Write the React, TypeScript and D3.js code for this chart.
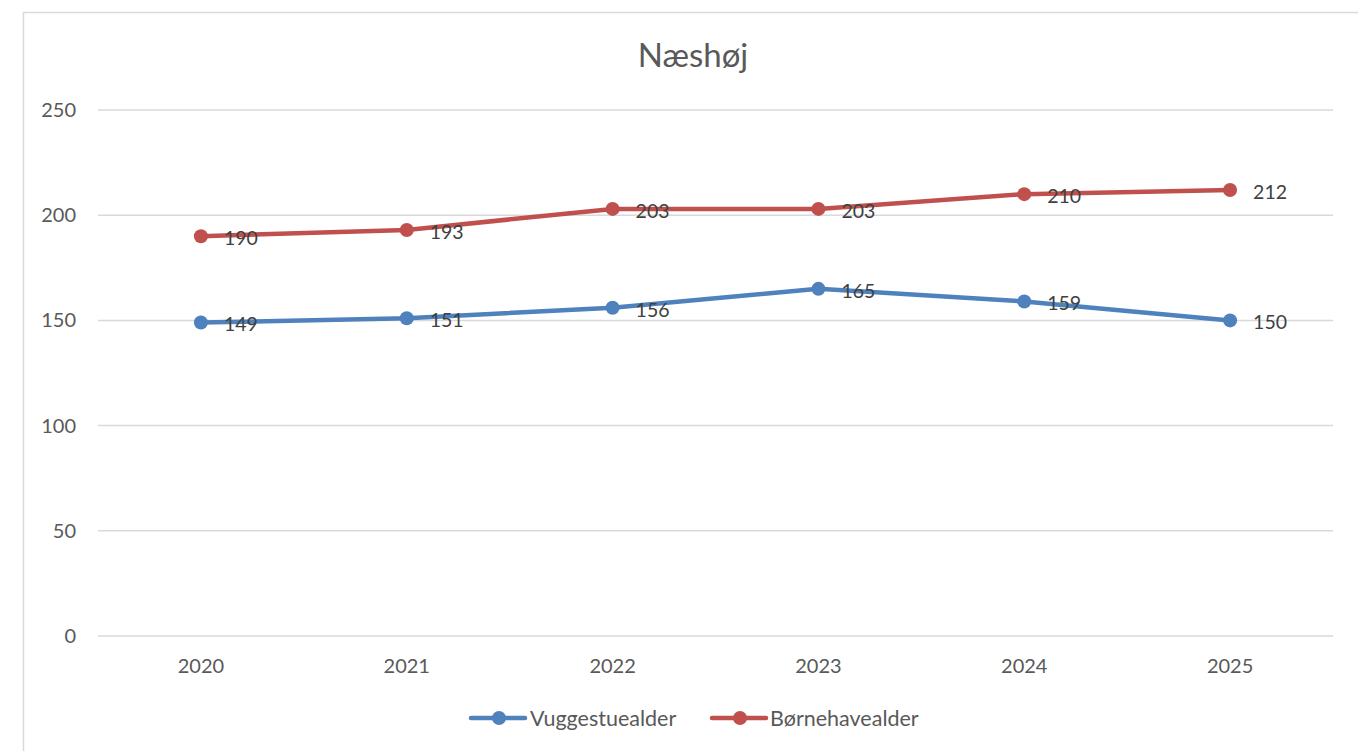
import React from "react";
import * as d3 from "d3";

const years = ["2020", "2021", "2022", "2023", "2024", "2025"];
const vuggestue = [149, 151, 156, 165, 159, 150];
const boernehave = [190, 193, 203, 203, 210, 212];
const yTicks = [0, 50, 100, 150, 200, 250];
const seriesNames = ["Vuggestuealder", "Børnehavealder"];
const seriesColors = ["#4f81bd", "#c0504d"];

const W = 1358;
const H = 751;
const FONT = "Lato, 'Noto Sans', sans-serif";

export default function App() {
  const plotLeft = 98;
  const plotRight = 1333;
  const x = d3
    .scalePoint<string>()
    .domain(years)
    .range([plotLeft, plotRight])
    .padding(0.5);
  const y = d3.scaleLinear().domain([0, 250]).range([636, 110]);
  const line = d3
    .line<number>()
    .x((_, i) => x(years[i]) as number)
    .y((d) => y(d));
  const series = [vuggestue, boernehave];

  const legendItems = [
    { x0: 471, tx: 530 },
    { x0: 712, tx: 770 },
  ];

  return (
    <svg
      width={W}
      height={H}
      style={{ position: "absolute", left: 0, top: 0, background: "#fff" }}
      fontFamily={FONT}
    >
      <rect x={23.5} y={12.5} width={W} height={H} fill="#fff" stroke="#d9d9d9" strokeWidth={1.5} />
      <text x={693} y={67} textAnchor="middle" fontSize={33} fill="#595959">
        Næshøj
      </text>
      {yTicks.map((t) => (
        <g key={t}>
          <line x1={plotLeft} x2={plotRight} y1={y(t)} y2={y(t)} stroke="#d9d9d9" strokeWidth={1.5} />
          <text x={76} y={y(t)} dy="0.35em" textAnchor="end" fontSize={20} fill="#595959">
            {t}
          </text>
        </g>
      ))}
      {years.map((yr) => (
        <text key={yr} x={x(yr)} y={673} textAnchor="middle" fontSize={20} fill="#595959">
          {yr}
        </text>
      ))}
      {series.map((s, si) => (
        <g key={si}>
          <path d={line(s) || ""} fill="none" stroke={seriesColors[si]} strokeWidth={4.5} strokeLinejoin="round" strokeLinecap="round" />
          {s.map((v, i) => (
            <circle key={i} cx={x(years[i])} cy={y(v)} r={7} fill={seriesColors[si]} />
          ))}
          {s.map((v, i) => (
            <text
              key={"l" + i}
              x={(x(years[i]) as number) + 23}
              y={y(v) + 2}
              dy="0.35em"
              fontSize={19.5}
              fill="#404040"
            >
              {v}
            </text>
          ))}
        </g>
      ))}
      {legendItems.map((li, i) => (
        <g key={i}>
          <line x1={li.x0} x2={li.x0 + 54} y1={718} y2={718} stroke={seriesColors[i]} strokeWidth={4.5} strokeLinecap="round" />
          <circle cx={li.x0 + 28} cy={718} r={7} fill={seriesColors[i]} />
          <text x={li.tx} y={718} dy="0.35em" fontSize={21.5} fill="#595959">
            {seriesNames[i]}
          </text>
        </g>
      ))}
    </svg>
  );
}
